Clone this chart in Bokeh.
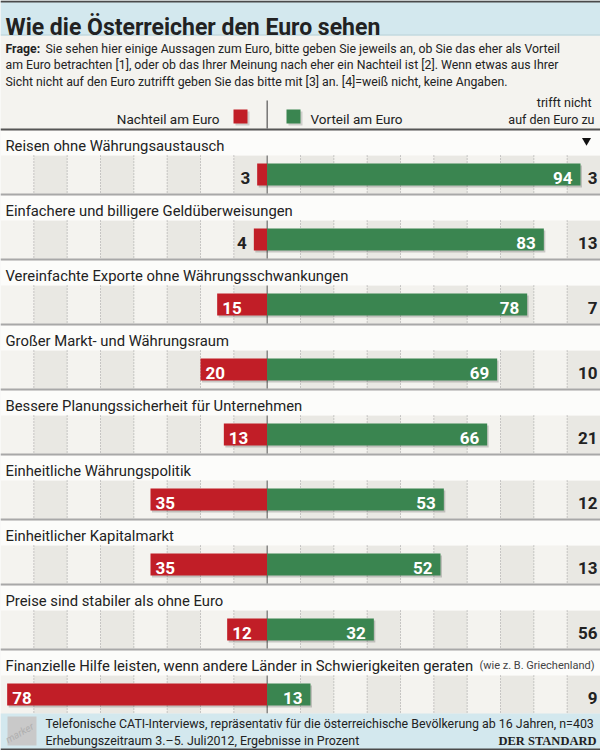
from bokeh.plotting import figure
from bokeh.models import Range1d
from bokeh.core.properties import value
from bokeh.embed import file_html
from bokeh.resources import INLINE

# ---- content -------------------------------------------------------------
title = "Wie die Österreicher den Euro sehen"
question_label = "Frage:"
question_lines = [
    "Sie sehen hier einige Aussagen zum Euro, bitte geben Sie jeweils an, ob Sie das eher als Vorteil",
    "am Euro betrachten [1], oder ob das Ihrer Meinung nach eher ein Nachteil ist [2]. Wenn etwas aus Ihrer",
    "Sicht nicht auf den Euro zutrifft geben Sie das bitte mit [3] an. [4]=weiß nicht, keine Angaben.",
]
legend_labels = ["Nachteil am Euro", "Vorteil am Euro"]
column_header = ["trifft nicht", "auf den Euro zu"]

statements = [
    "Reisen ohne Währungsaustausch",
    "Einfachere und billigere Geldüberweisungen",
    "Vereinfachte Exporte ohne Währungsschwankungen",
    "Großer Markt- und Währungsraum",
    "Bessere Planungssicherheit für Unternehmen",
    "Einheitliche Währungspolitik",
    "Einheitlicher Kapitalmarkt",
    "Preise sind stabiler als ohne Euro",
    "Finanzielle Hilfe leisten, wenn andere Länder in Schwierigkeiten geraten",
]
statement_notes = ["", "", "", "", "", "", "", "", "(wie z. B. Griechenland)"]
nachteil = [3, 4, 15, 20, 13, 35, 35, 12, 78]
vorteil = [94, 83, 78, 69, 66, 53, 52, 32, 13]
trifft_nicht = [3, 13, 7, 10, 21, 12, 13, 56, 9]

grid_ticks = [-70, -60, -50, -40, -30, -20, -10, 10, 20, 30, 40, 50, 60, 70, 80, 90]
shaded_cols = [(-70, -60), (-50, -40), (-30, -20), (-10, 0), (10, 20), (30, 40),
               (50, 60), (70, 80), (90, 100)]

footer_lines = [
    "Telefonische CATI-Interviews, repräsentativ für die österreichische Bevölkerung ab 16 Jahren, n=403",
    "Erhebungszeitraum 3.–5. Juli2012, Ergebnisse in Prozent",
]
brand = "DER STANDARD"

# ---- style ---------------------------------------------------------------
RED = "#c11e27"
GREEN = "#3a8550"
INK = "#222222"
BG = "#f4f3ef"
COL_DARK = "#e9e8e3"
BLUE = "#d3e8ee"
FONT = value("Roboto")

W, H = 600, 750
X_MIN, X_MAX = -80, 100
UNIT_PER_PX = (X_MAX - X_MIN) / W

ROW_TOP = 130      # top of the first label band
PITCH = 65
LABEL_H = 25
BAND_H = 38
FOOT_TOP = ROW_TOP + PITCH * len(statements) - 2

p = figure(width=W, height=H, x_range=Range1d(X_MIN, X_MAX), y_range=Range1d(H, 0),
           output_backend="svg", toolbar_location=None, min_border=0,
           x_axis_location=None, y_axis_location=None,
           background_fill_color=BG, border_fill_color=BG)
p.grid.visible = False
p.outline_line_color = None
p.extra_x_ranges = {"px": Range1d(0, W)}

# ---- header --------------------------------------------------------------
p.quad(left=0, right=W, top=0, bottom=34, x_range_name="px", fill_color=BLUE, line_color=None)
p.quad(left=0, right=W, top=0, bottom=2, x_range_name="px", fill_color="#4a4a4a", line_color=None)
p.quad(left=0, right=W, top=34, bottom=35, x_range_name="px", fill_color="#a9cdd8", line_color=None)
p.text(x=[5], y=[27], text=[title], x_range_name="px", text_font=FONT,
       text_font_style="bold", text_font_size="23px", text_color=INK,
       text_baseline="alphabetic")

p.text(x=[5], y=[48], text=[question_label], x_range_name="px", text_font=FONT,
       text_font_style="bold", text_font_size="12.3px", text_color=INK, text_baseline="alphabetic")
p.text(x=[45, 5, 5], y=[48, 64.5, 81], text=question_lines, x_range_name="px", text_font=FONT,
       text_font_size="12.3px", text_color=INK, text_baseline="alphabetic")

# legend
p.text(x=[219], y=[118.5], text=[legend_labels[0]], x_range_name="px", text_font=FONT,
       text_font_size="13.5px", text_color=INK, text_align="right", text_baseline="alphabetic")
p.text(x=[310], y=[118.5], text=[legend_labels[1]], x_range_name="px", text_font=FONT,
       text_font_size="13.5px", text_color=INK, text_align="left", text_baseline="alphabetic")
p.quad(left=[235, 288], right=[249, 302], top=[111, 111], bottom=[125, 125], x_range_name="px",
       fill_color="#000000", fill_alpha=0.15, line_color=None)
p.quad(left=[233, 286], right=[247, 300], top=[109, 109], bottom=[123, 123], x_range_name="px",
       fill_color=[RED, GREEN], line_color=None)
p.segment(x0=[0], x1=[0], y0=[100], y1=[128], line_color="#555555", line_width=1.2)
p.text(x=[591, 594], y=[101.5, 118.5], text=column_header, x_range_name="px", text_font=FONT,
       text_font_size="12.5px", text_color=INK, text_align="right", text_baseline="alphabetic")

# ---- rows ----------------------------------------------------------------
n = len(statements)
tops = [ROW_TOP + PITCH * i for i in range(n)]
band_tops = [t + LABEL_H for t in tops]
band_bots = [t + LABEL_H + BAND_H for t in tops]
centers = [t + LABEL_H + BAND_H / 2 for t in tops]

# shaded decile columns behind the bar bands
for a, b in shaded_cols:
    p.quad(left=a, right=b, top=band_tops, bottom=band_bots, fill_color=COL_DARK, line_color=None)

# label bands and separators
p.quad(left=0, right=W, top=tops, bottom=[t + LABEL_H for t in tops], x_range_name="px",
       fill_color="#fcfcfa", line_color=None)
p.quad(left=0, right=W, top=[t - 2 for t in tops[1:]], bottom=tops[1:], x_range_name="px",
       fill_color="#a8a8a8", line_color=None)
p.quad(left=0, right=W, top=[tops[0] - 2], bottom=[tops[0]], x_range_name="px",
       fill_color="#555555", line_color=None)

# dotted grid inside each bar band
gx, gy0, gy1 = [], [], []
for t0, t1 in zip(band_tops, band_bots):
    for g in grid_ticks:
        gx.append(g)
        gy0.append(t0)
        gy1.append(t1)
p.segment(x0=gx, x1=gx, y0=gy0, y1=gy1, line_color="#9c9c9c", line_width=1, line_dash="1 2")
p.segment(x0=[0] * n, x1=[0] * n, y0=band_tops, y1=band_bots, line_color="#555555", line_width=1)

# bars with a soft shadow
neg = [-v for v in nachteil]
shadow_dx = 1.5 * UNIT_PER_PX
p.hbar(y=[c + 2 for c in centers], left=[v + shadow_dx for v in neg],
       right=[v + shadow_dx for v in vorteil], height=22, fill_color="#000000",
       fill_alpha=0.18, line_color=None)
p.hbar(y=centers, left=neg, right=0, height=22, fill_color=RED, line_color=None)
p.hbar(y=centers, left=0, right=vorteil, height=22, fill_color=GREEN, line_color=None)

# statement labels
label_base = [t + 15 for t in tops]
p.text(x=[5] * n, y=label_base, text=statements, x_range_name="px", text_font=FONT,
       text_font_size="14.8px", text_color=INK, text_baseline="alphabetic")
note_rows = [i for i, s in enumerate(statement_notes) if s]
p.text(x=[479] * len(note_rows), y=[label_base[i] for i in note_rows],
       text=[statement_notes[i] for i in note_rows], x_range_name="px",
       text_font=FONT, text_font_size="11px", text_color="#444444", text_baseline="alphabetic")

p.scatter(x=[586], y=[tops[0] + 10], x_range_name="px", marker="inverted_triangle", size=9,
          fill_color="#111111", line_color=None)

# value labels
VAL_SIZE = "17px"
pad_in = 5 * UNIT_PER_PX
pad_out = 7 * UNIT_PER_PX
pad_end = 8 * UNIT_PER_PX
base = [c + 3 for c in centers]
inside = [i for i, v in enumerate(nachteil) if v >= 10]
outside = [i for i, v in enumerate(nachteil) if v < 10]
p.text(x=[-nachteil[i] + pad_in for i in inside], y=[base[i] for i in inside],
       text=[str(nachteil[i]) for i in inside], text_font=FONT, text_font_style="bold",
       text_font_size=VAL_SIZE, text_color="white", text_align="left", text_baseline="alphabetic")
p.text(x=[-nachteil[i] - pad_out for i in outside], y=[base[i] for i in outside],
       text=[str(nachteil[i]) for i in outside], text_font=FONT, text_font_style="bold",
       text_font_size=VAL_SIZE, text_color=INK, text_align="right", text_baseline="alphabetic")
p.text(x=[v - pad_end for v in vorteil], y=base, text=[str(v) for v in vorteil],
       text_font=FONT, text_font_style="bold", text_font_size=VAL_SIZE, text_color="white",
       text_align="right", text_baseline="alphabetic")
p.text(x=[597] * n, y=base, text=[str(v) for v in trifft_nicht], x_range_name="px",
       text_font=FONT, text_font_style="bold", text_font_size=VAL_SIZE, text_color=INK,
       text_align="right", text_baseline="alphabetic")

# ---- footer --------------------------------------------------------------
p.quad(left=0, right=W, top=FOOT_TOP, bottom=H, x_range_name="px", fill_color=BLUE, line_color=None)
p.quad(left=0, right=W, top=H - 2, bottom=H, x_range_name="px", fill_color="#4a4a4a", line_color=None)
p.quad(left=7, right=36, top=FOOT_TOP + 3, bottom=H - 5, x_range_name="px",
       fill_color="#c9c9c9", line_color=None)
p.text(x=[6], y=[H - 10], text=["marker"], x_range_name="px", angle=0.52, text_font=FONT,
       text_font_style="italic", text_font_size="10px", text_color="#b0b0b0",
       text_baseline="alphabetic")
p.text(x=[45, 45], y=[FOOT_TOP + 10, FOOT_TOP + 26.5], text=footer_lines, x_range_name="px",
       text_font=FONT, text_font_size="12.4px", text_color=INK, text_baseline="alphabetic")
p.text(x=[596], y=[FOOT_TOP + 27], text=[brand], x_range_name="px",
       text_font=value("Liberation Serif"), text_font_style="bold", text_font_size="12.5px",
       text_color=INK, text_align="right", text_baseline="alphabetic")

open("out.html", "w").write(file_html(p, INLINE))
